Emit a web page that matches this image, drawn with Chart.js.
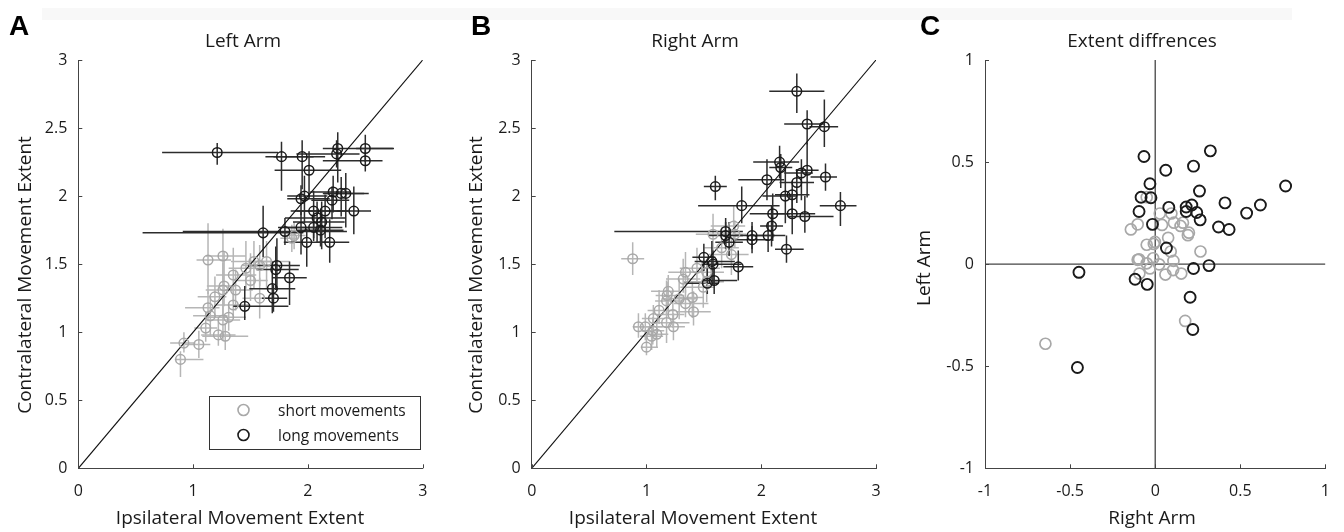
<!DOCTYPE html>
<html>
<head>
<meta charset="utf-8">
<script src="https://cdn.jsdelivr.net/npm/chart.js@4.4.1/dist/chart.umd.min.js"></script>
<style>
  html, body { margin: 0; padding: 0; background: #fff; }
  #wrap { position: relative; width: 1344px; height: 532px; overflow: hidden; }
  .band { position: absolute; left: 42px; top: 8px; width: 1250px; height: 12px; background: #f8f8f8; }
  canvas { position: absolute; top: 0; }
</style>
</head>
<body>
<div id="wrap">
  <div class="band"></div>
  <canvas id="panelA" width="450" height="532" style="left:0px"></canvas>
  <canvas id="panelB" width="450" height="532" style="left:450px"></canvas>
  <canvas id="panelC" width="444" height="532" style="left:900px"></canvas>
</div>
<script>
// ---- data ----
const extentXTicks = [0, 1, 2, 3];
const extentYTicks = [0, 0.5, 1, 1.5, 2, 2.5, 3];
const diffTicks = [-1, -0.5, 0, 0.5, 1];

// Left arm, long movements
const leftLongX = [1.21, 1.77, 1.95, 2.01, 2.26, 2.25, 2.50, 2.50, 1.97, 1.94, 2.22, 2.29, 2.33, 2.21, 2.05, 2.15,
  2.40, 2.08, 2.12, 2.11, 1.94, 2.05, 1.61, 1.80, 1.99, 2.19, 1.73, 1.72, 1.84, 1.69, 1.70, 1.45];
const leftLongY = [2.32, 2.29, 2.29, 2.19, 2.35, 2.31, 2.35, 2.26, 2.00, 1.98, 2.03, 2.02, 2.02, 1.97, 1.89, 1.89,
  1.89, 1.84, 1.81, 1.75, 1.77, 1.77, 1.73, 1.74, 1.66, 1.66, 1.49, 1.46, 1.40, 1.32, 1.25, 1.19];
const leftLongXErr = [[0.48, 0.53], [0.14, 0.28], [0.25, 0.2], [0.3, 0.28], [0.13, 0.48], [0.35, 0.2], [0.08, 0.25],
  [0.37, 0.15], [0.15, 0.2], [0.12, 0.25], [0.2, 0.15], [0.15, 0.2], [0.2, 0.2], [0.18, 0.15], [0.2, 0.25],
  [0.25, 0.2], [0.15, 0.15], [0.28, 0.25], [0.25, 0.2], [0.2, 0.2], [0.2, 0.2], [0.25, 0.25], [1.05, 0.35],
  [0.89, 0.54], [0.2, 0.2], [0.1, 0.17], [0.25, 0.2], [0.17, 0.2], [0.15, 0.15], [0.2, 0.2], [0.1, 0.12], [0.1, 0.38]];
const leftLongYErr = [[0.09, 0.07], [0.25, 0.11], [0.24, 0.12], [0.2, 0.14], [0.25, 0.12], [0.1, 0.1], [0.1, 0.1],
  [0.08, 0.08], [0.2, 0.15], [0.12, 0.1], [0.15, 0.12], [0.17, 0.12], [0.25, 0.15], [0.14, 0.1], [0.2, 0.15],
  [0.2, 0.12], [0.17, 0.18], [0.18, 0.12], [0.2, 0.15], [0.12, 0.15], [0.2, 0.12], [0.1, 0.1], [0.18, 0.2],
  [0.1, 0.1], [0.18, 0.1], [0.15, 0.17], [0.18, 0.2], [0.15, 0.17], [0.2, 0.12], [0.18, 0.2], [0.1, 0.1], [0.1, 0.15]];

// Left arm, short movements
const leftShortX = [1.13, 1.26, 1.53, 1.64, 1.58, 1.46, 1.35, 1.50, 1.27, 1.26, 1.37, 1.19, 1.58, 1.35, 1.13,
  1.15, 1.31, 1.26, 1.11, 1.22, 1.28, 0.92, 1.05, 0.89, 1.88, 1.86];
const leftShortY = [1.53, 1.56, 1.52, 1.52, 1.49, 1.47, 1.42, 1.38, 1.34, 1.31, 1.31, 1.26, 1.25, 1.20, 1.18,
  1.12, 1.11, 1.09, 1.03, 0.98, 0.97, 0.92, 0.91, 0.80, 1.71, 1.69];
const leftShortXErr = [[0.1, 0.2], [0.15, 0.2], [0.2, 0.15], [0.15, 0.2], [0.15, 0.15], [0.15, 0.15], [0.15, 0.2],
  [0.15, 0.15], [0.15, 0.1], [0.15, 0.2], [0.1, 0.15], [0.15, 0.1], [0.15, 0.1], [0.15, 0.15], [0.2, 0.1],
  [0.15, 0.15], [0.2, 0.15], [0.15, 0.15], [0.1, 0.1], [0.15, 0.15], [0.2, 0.2], [0.12, 0.1], [0.12, 0.1],
  [0.05, 0.2], [0.1, 0.1], [0.1, 0.05]];
const leftShortYErr = [[0.25, 0.27], [0.2, 0.2], [0.2, 0.15], [0.2, 0.15], [0.15, 0.15], [0.15, 0.2], [0.2, 0.2],
  [0.15, 0.2], [0.15, 0.25], [0.2, 0.2], [0.15, 0.15], [0.15, 0.15], [0.15, 0.15], [0.1, 0.15], [0.1, 0.12],
  [0.15, 0.15], [0.1, 0.1], [0.15, 0.15], [0.1, 0.12], [0.08, 0.1], [0.1, 0.1], [0.07, 0.08], [0.1, 0.1],
  [0.13, 0.06], [0.1, 0.1], [0.1, 0.1]];

// Right arm, long movements
const rightLongX = [2.31, 2.40, 2.55, 2.16, 2.17, 2.05, 2.40, 2.35, 2.56, 1.60, 2.31, 2.27, 2.21, 1.83, 2.69, 2.10,
  2.27, 2.38, 1.69, 1.69, 2.09, 1.92, 1.92, 2.06, 1.72, 2.22, 1.50, 1.57, 1.58, 1.80, 1.59, 1.53];
const rightLongY = [2.77, 2.53, 2.51, 2.25, 2.21, 2.12, 2.19, 2.17, 2.14, 2.07, 2.10, 2.01, 2.00, 1.93, 1.93, 1.87,
  1.87, 1.85, 1.74, 1.71, 1.78, 1.71, 1.68, 1.71, 1.66, 1.61, 1.55, 1.52, 1.50, 1.48, 1.38, 1.36];
const rightLongXErr = [[0.24, 0.24], [0.2, 0.15], [0.13, 0.12], [0.23, 0.17], [0.1, 0.1], [0.25, 0.15], [0.1, 0.1],
  [0.15, 0.1], [0.13, 0.1], [0.1, 0.1], [0.15, 0.15], [0.15, 0.15], [0.2, 0.1], [0.38, 0.33], [0.18, 0.14],
  [0.2, 0.15], [0.2, 0.2], [0.15, 0.25], [0.97, 0.15], [0.15, 0.15], [0.1, 0.1], [0.15, 0.2], [0.15, 0.15],
  [0.15, 0.15], [0.12, 0.12], [0.1, 0.15], [0.1, 0.1], [0.15, 0.2], [0.1, 0.25], [0.13, 0.13], [0.1, 0.2], [0.2, 0.1]];
const rightLongYErr = [[0.16, 0.13], [0.15, 0.1], [0.15, 0.2], [0.12, 0.12], [0.15, 0.1], [0.15, 0.15], [0.2, 0.2],
  [0.2, 0.1], [0.1, 0.1], [0.1, 0.08], [0.15, 0.1], [0.15, 0.1], [0.2, 0.2], [0.13, 0.14], [0.15, 0.1],
  [0.2, 0.15], [0.15, 0.15], [0.12, 0.15], [0.1, 0.1], [0.1, 0.1], [0.15, 0.15], [0.1, 0.1], [0.1, 0.1],
  [0.12, 0.1], [0.1, 0.15], [0.1, 0.1], [0.1, 0.1], [0.15, 0.15], [0.15, 0.1], [0.1, 0.12], [0.1, 0.1], [0.08, 0.12]];

// Right arm, short movements
const rightShortX = [0.88, 1.34, 1.19, 1.18, 1.175, 1.285, 1.40, 1.34, 1.11, 1.41, 1.23, 1.06, 0.93, 0.99, 1.175,
  1.235, 1.055, 1.09, 1.045, 1.00, 1.495, 1.525, 1.58, 1.76, 1.77, 1.655, 1.74, 1.525, 1.44, 1.32];
const rightShortY = [1.54, 1.44, 1.30, 1.27, 1.23, 1.245, 1.255, 1.21, 1.16, 1.15, 1.13, 1.10, 1.04, 1.04, 1.07,
  1.04, 1.01, 0.985, 0.97, 0.89, 1.33, 1.37, 1.72, 1.78, 1.72, 1.62, 1.57, 1.44, 1.47, 1.39];
const rightShortXErr = [[0.1, 0.1], [0.15, 0.15], [0.15, 0.1], [0.1, 0.15], [0.1, 0.15], [0.15, 0.15], [0.15, 0.1],
  [0.1, 0.2], [0.1, 0.15], [0.15, 0.15], [0.15, 0.1], [0.1, 0.1], [0.05, 0.1], [0.1, 0.15], [0.1, 0.2],
  [0.15, 0.1], [0.1, 0.1], [0.1, 0.1], [0.1, 0.1], [0.05, 0.1], [0.2, 0.1], [0.2, 0.15], [0.15, 0.15],
  [0.2, 0.1], [0.15, 0.1], [0.15, 0.15], [0.2, 0.15], [0.15, 0.15], [0.15, 0.2], [0.15, 0.15]];
const rightShortYErr = [[0.12, 0.12], [0.15, 0.15], [0.15, 0.12], [0.1, 0.1], [0.1, 0.15], [0.15, 0.15], [0.15, 0.12],
  [0.1, 0.1], [0.1, 0.15], [0.1, 0.15], [0.1, 0.1], [0.1, 0.1], [0.08, 0.1], [0.1, 0.1], [0.15, 0.15],
  [0.1, 0.1], [0.1, 0.1], [0.1, 0.1], [0.1, 0.08], [0.06, 0.1], [0.15, 0.15], [0.15, 0.15], [0.15, 0.15],
  [0.15, 0.15], [0.1, 0.1], [0.15, 0.15], [0.15, 0.15], [0.15, 0.1], [0.1, 0.15], [0.1, 0.15]];

// Extent differences (x: right arm, y: left arm)
const diffLongX = [-0.066, 0.062, 0.324, 0.225, 0.766, -0.031, -0.083, -0.025, 0.26, 0.41, 0.618, 0.537, -0.095,
  0.08, 0.182, 0.215, 0.182, 0.244, 0.264, -0.016, 0.372, 0.434, 0.066, -0.448, -0.118, -0.047, 0.225, 0.316,
  0.205, 0.221, -0.457];
const diffLongY = [0.527, 0.46, 0.555, 0.48, 0.383, 0.394, 0.328, 0.325, 0.358, 0.30, 0.29, 0.25, 0.258, 0.278,
  0.28, 0.29, 0.258, 0.253, 0.217, 0.195, 0.182, 0.17, 0.079, -0.04, -0.074, -0.099, -0.021, -0.007, -0.162,
  -0.32, -0.506];
const diffShortX = [-0.645, 0.176, -0.143, -0.103, -0.05, 0.027, 0.095, 0.04, 0.11, 0.149, 0.163, 0.198, 0.192,
  0.076, -0.05, -0.002, -0.008, 0.266, 0.091, -0.095, -0.103, -0.012, -0.05, 0.023, 0.107, -0.031, -0.093, 0.06,
  0.105, 0.153];
const diffShortY = [-0.39, -0.278, 0.17, 0.195, 0.328, 0.248, 0.248, 0.192, 0.203, 0.187, 0.203, 0.154, 0.142,
  0.129, 0.095, 0.109, 0.099, 0.062, 0.062, 0.024, 0.021, 0.029, 0.004, -0.001, 0.016, -0.021, -0.046, -0.051,
  -0.029, -0.046];

// reference lines
const identityLine = [0, 3];
const zeroLine = [-1, 1];

// ---- style ----
const FONT = "'Open Sans', sans-serif";
const INK = "#1a1a1a";
const AXIS = "#444";
const LONG_COLOR = "#1a1a1a";
const LONG_BAR = "#2c2c2c";
const SHORT_COLOR = "#a8a8a8";
const SHORT_BAR = "#b6b6b6";

Chart.defaults.font.family = FONT;
Chart.defaults.color = INK;

const toPoints = (xs, ys) => xs.map((x, i) => ({ x, y: ys[i] }));

// crosses drawn under the circles
const errorBarPlugin = {
  id: "errorBars",
  beforeDatasetsDraw(chart) {
    const { ctx, scales: { x, y } } = chart;
    ctx.save();
    ctx.lineWidth = 1.5;
    chart.data.datasets.slice().reverse().forEach((ds) => {
      if (!ds.xErr) return;
      ctx.strokeStyle = ds.barColor;
      ds.data.forEach((p, i) => {
        const [xl, xh] = ds.xErr[i];
        const [yl, yh] = ds.yErr[i];
        const px = x.getPixelForValue(p.x);
        const py = y.getPixelForValue(p.y);
        ctx.beginPath();
        ctx.moveTo(x.getPixelForValue(p.x - xl), py);
        ctx.lineTo(x.getPixelForValue(p.x + xh), py);
        ctx.moveTo(px, y.getPixelForValue(p.y - yl));
        ctx.lineTo(px, y.getPixelForValue(p.y + yh));
        ctx.stroke();
      });
    });
    ctx.restore();
  },
};

// MATLAB style ticks pointing into the axes
const inwardTicks = {
  id: "inwardTicks",
  afterDraw(chart) {
    const { ctx, chartArea: a, scales: { x, y } } = chart;
    ctx.save();
    ctx.strokeStyle = AXIS;
    ctx.lineWidth = 1;
    ctx.beginPath();
    x.ticks.forEach((t) => {
      const px = Math.round(x.getPixelForValue(t.value)) + 0.5;
      ctx.moveTo(px, a.bottom);
      ctx.lineTo(px, a.bottom - 4);
    });
    y.ticks.forEach((t) => {
      const py = Math.round(y.getPixelForValue(t.value)) + 0.5;
      ctx.moveTo(a.left, py);
      ctx.lineTo(a.left + 4, py);
    });
    ctx.stroke();
    ctx.restore();
  },
};

const panelText = {
  id: "panelText",
  afterDraw(chart, args, o) {
    const ctx = chart.ctx;
    ctx.save();
    ctx.fillStyle = "#000";
    ctx.font = "bold 28px 'Liberation Sans', Arial, sans-serif";
    ctx.textAlign = "left";
    ctx.textBaseline = "alphabetic";
    ctx.fillText(o.letter, o.letterX, 35);

    ctx.fillStyle = INK;
    ctx.font = `19px ${FONT}`;
    ctx.textAlign = "center";
    ctx.textBaseline = "middle";
    ctx.fillText(o.title, o.titleX, 42);
    ctx.fillText(o.xTitle, o.xTitleX, 519);
    ctx.translate(o.yTitleX, o.yTitleY);
    ctx.rotate(-Math.PI / 2);
    ctx.fillText(o.yTitle, 0, 0);
    ctx.restore();
  },
};

const legendBox = {
  id: "legendBox",
  afterDraw(chart, args, o) {
    if (!o.show) return;
    const ctx = chart.ctx;
    const items = [chart.data.datasets[1], chart.data.datasets[0]];
    ctx.save();
    ctx.fillStyle = "#fff";
    ctx.fillRect(209, 396, 211, 53);
    ctx.strokeStyle = "#333";
    ctx.lineWidth = 1;
    ctx.strokeRect(209.5, 396.5, 211, 53);
    ctx.font = `15.5px ${FONT}`;
    ctx.textAlign = "left";
    ctx.textBaseline = "middle";
    items.forEach((ds, i) => {
      const cy = 410 + i * 25;
      ctx.beginPath();
      ctx.arc(243.5, cy, 5.5, 0, Math.PI * 2);
      ctx.strokeStyle = ds.borderColor;
      ctx.lineWidth = 1.6;
      ctx.stroke();
      ctx.fillStyle = INK;
      ctx.fillText(ds.label, 278, cy + 2);
    });
    ctx.restore();
  },
};

function scaleOpts(ticks, min, max, isX, size) {
  return {
    type: "linear",
    min, max,
    afterBuildTicks: (s) => { s.ticks = ticks.map((v) => ({ value: v })); },
    afterFit: (s) => { if (isX) s.height = size; else s.width = size; },
    grid: { display: false, drawTicks: false },
    border: { display: true, color: AXIS, width: 1 },
    ticks: {
      padding: isX ? 14 : 11,
      color: INK,
      font: { size: 16 },
      callback: (v) => String(v),
    },
  };
}

function makePanel(id, p) {
  const ctx = document.getElementById(id).getContext("2d");
  const canvasW = ctx.canvas.width;
  return new Chart(ctx, {
    type: "scatter",
    data: { datasets: p.datasets },
    plugins: [errorBarPlugin, inwardTicks, panelText, legendBox],
    options: {
      responsive: false,
      animation: false,
      devicePixelRatio: 1,
      layout: { padding: { left: 0, top: 60, right: canvasW - p.areaRight, bottom: 0 } },
      scales: {
        x: scaleOpts(p.xTicks, p.min, p.max, true, 532 - 468.3),
        y: scaleOpts(p.yTicks, p.yMin, p.yMax, false, p.areaLeft),
      },
      plugins: {
        legend: { display: false },
        tooltip: { enabled: false },
        panelText: p.text,
        legendBox: { show: !!p.legend },
      },
    },
  });
}

function extentDatasets(longX, longY, longXErr, longYErr, shortX, shortY, shortXErr, shortYErr) {
  return [
    {
      label: "long movements",
      data: toPoints(longX, longY),
      xErr: longXErr, yErr: longYErr, barColor: LONG_BAR,
      borderColor: LONG_COLOR, backgroundColor: "transparent",
      pointRadius: 4.8, borderWidth: 1.5,
    },
    {
      label: "short movements",
      data: toPoints(shortX, shortY),
      xErr: shortXErr, yErr: shortYErr, barColor: SHORT_BAR,
      borderColor: SHORT_COLOR, backgroundColor: "transparent",
      pointRadius: 4.8, borderWidth: 1.5,
    },
    {
      label: "identity",
      data: toPoints(identityLine, identityLine),
      showLine: true, pointRadius: 0, borderColor: "#111", borderWidth: 1.1,
    },
  ];
}

makePanel("panelA", {
  datasets: extentDatasets(leftLongX, leftLongY, leftLongXErr, leftLongYErr,
    leftShortX, leftShortY, leftShortXErr, leftShortYErr),
  xTicks: extentXTicks, yTicks: extentYTicks, min: 0, max: 3, yMin: 0, yMax: 3,
  areaLeft: 78.3, areaRight: 422.7, legend: true,
  text: {
    letter: "A", letterX: 9, title: "Left Arm", titleX: 243,
    xTitle: "Ipsilateral Movement Extent", xTitleX: 240,
    yTitle: "Contralateral Movement Extent", yTitleX: 26, yTitleY: 275,
  },
});

makePanel("panelB", {
  datasets: extentDatasets(rightLongX, rightLongY, rightLongXErr, rightLongYErr,
    rightShortX, rightShortY, rightShortXErr, rightShortYErr),
  xTicks: extentXTicks, yTicks: extentYTicks, min: 0, max: 3, yMin: 0, yMax: 3,
  areaLeft: 81.7, areaRight: 426,
  text: {
    letter: "B", letterX: 21, title: "Right Arm", titleX: 245,
    xTitle: "Ipsilateral Movement Extent", xTitleX: 243,
    yTitle: "Contralateral Movement Extent", yTitleX: 27, yTitleY: 275,
  },
});

makePanel("panelC", {
  datasets: [
    {
      label: "long movements",
      data: toPoints(diffLongX, diffLongY),
      borderColor: LONG_COLOR, backgroundColor: "transparent",
      pointRadius: 5.5, borderWidth: 1.9,
    },
    {
      label: "short movements",
      data: toPoints(diffShortX, diffShortY),
      borderColor: SHORT_COLOR, backgroundColor: "transparent",
      pointRadius: 5.5, borderWidth: 1.7,
    },
    {
      label: "zero x",
      data: toPoints(zeroLine, [0, 0]),
      showLine: true, pointRadius: 0, borderColor: "#444", borderWidth: 1.3,
    },
    {
      label: "zero y",
      data: toPoints([0, 0], zeroLine),
      showLine: true, pointRadius: 0, borderColor: "#444", borderWidth: 1.3,
    },
  ],
  xTicks: diffTicks, yTicks: diffTicks, min: -1, max: 1, yMin: -1, yMax: 1,
  areaLeft: 85, areaRight: 429,
  text: {
    letter: "C", letterX: 20, title: "Extent diffrences", titleX: 242,
    xTitle: "Right Arm", xTitleX: 252,
    yTitle: "Left Arm", yTitleX: 25, yTitleY: 268,
  },
});
</script>
</body>
</html>
